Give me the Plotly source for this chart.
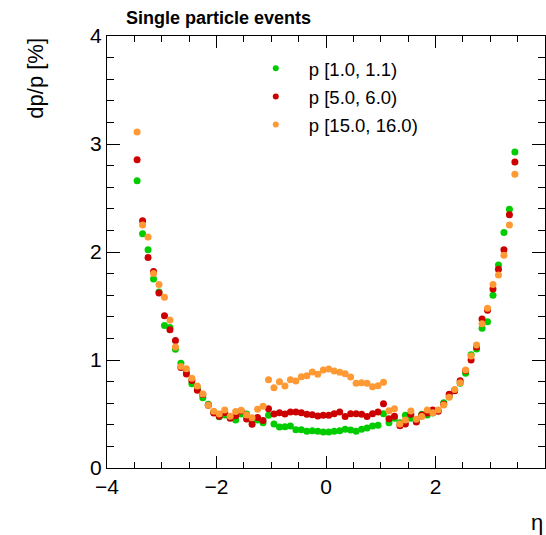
import plotly.graph_objects as go

eta = [-3.45, -3.35, -3.25, -3.15, -3.05, -2.95, -2.85, -2.75, -2.65, -2.55,
       -2.45, -2.35, -2.25, -2.15, -2.05, -1.95, -1.85, -1.75, -1.65, -1.55,
       -1.45, -1.35, -1.25, -1.15, -1.05, -0.95, -0.85, -0.75, -0.65, -0.55,
       -0.45, -0.35, -0.25, -0.15, -0.05, 0.05, 0.15, 0.25, 0.35, 0.45,
       0.55, 0.65, 0.75, 0.85, 0.95, 1.05, 1.15, 1.25, 1.35, 1.45,
       1.55, 1.65, 1.75, 1.85, 1.95, 2.05, 2.15, 2.25, 2.35, 2.45,
       2.55, 2.65, 2.75, 2.85, 2.95, 3.05, 3.15, 3.25, 3.35, 3.45]

p_1 = [2.66, 2.17, 2.02, 1.75, 1.63, 1.32, 1.30, 1.10, 0.97, 0.89,
       0.78, 0.74, 0.65, 0.59, 0.52, 0.475, 0.49, 0.47, 0.444, 0.50,
       0.50, 0.43, 0.444, 0.42, 0.488, 0.407, 0.380, 0.383, 0.389, 0.355,
       0.355, 0.340, 0.346, 0.340, 0.333, 0.333, 0.340, 0.346, 0.358, 0.352,
       0.340, 0.358, 0.370, 0.389, 0.395, 0.503, 0.42, 0.46, 0.42, 0.488,
       0.46, 0.44, 0.497, 0.49, 0.51, 0.53, 0.605, 0.66, 0.72, 0.785,
       0.877, 1.049, 1.102, 1.293, 1.355, 1.60, 1.88, 2.18, 2.395, 2.926]

p_5 = [2.855, 2.29, 1.95, 1.82, 1.62, 1.41, 1.28, 1.18, 0.93, 0.87,
       0.81, 0.72, 0.68, 0.58, 0.51, 0.48, 0.515, 0.46, 0.484, 0.528,
       0.454, 0.404, 0.468, 0.44, 0.549, 0.500, 0.512, 0.500, 0.519, 0.519,
       0.512, 0.497, 0.494, 0.481, 0.488, 0.488, 0.503, 0.519, 0.478, 0.503,
       0.503, 0.497, 0.478, 0.503, 0.519, 0.596, 0.457, 0.48, 0.392, 0.407,
       0.497, 0.426, 0.49, 0.51, 0.537, 0.525, 0.59, 0.682, 0.716, 0.809,
       0.90, 1.0, 1.12, 1.38, 1.46, 1.657, 1.84, 2.02, 2.345, 2.833]

p_15 = [3.11, 2.25, 2.14, 1.80, 1.70, 1.58, 1.37, 1.12, 0.94, 0.92,
        0.83, 0.76, 0.685, 0.58, 0.525, 0.50, 0.537, 0.48, 0.522, 0.534,
        0.491, 0.466, 0.545, 0.572, 0.818, 0.744, 0.799, 0.759, 0.818, 0.806,
        0.846, 0.855, 0.889, 0.867, 0.907, 0.917, 0.898, 0.886, 0.873, 0.843,
        0.784, 0.790, 0.784, 0.753, 0.762, 0.793, 0.531, 0.548, 0.407, 0.444,
        0.528, 0.451, 0.478, 0.537, 0.512, 0.537, 0.583, 0.654, 0.728, 0.79,
        0.907, 1.037, 1.139, 1.335, 1.48, 1.70, 1.787, 1.97, 2.25, 2.72]

names = ["p [1.0, 1.1)", "p [5.0, 6.0)", "p [15.0, 16.0)"]
colors = ["rgb(0,204,0)", "rgb(204,0,0)", "rgb(255,153,51)"]
series = [p_1, p_5, p_15]

FONT = "Liberation Sans, Arial, Helvetica, sans-serif"

fig = go.Figure()
for i, (nm, col, vals) in enumerate(zip(names, colors, series)):
    fig.add_trace(go.Scatter(x=eta, y=vals, mode="markers", name=nm,
                             marker=dict(color=col, size=7, line=dict(width=0)),
                             showlegend=False))
for i, (nm, col) in enumerate(zip(names, colors)):
    fig.add_trace(go.Scatter(x=[None], y=[None], mode="markers", name=nm,
                             legendgroup="g%d" % i,
                             marker=dict(color=col, size=6, line=dict(width=0)),
                             showlegend=True))

axis_common = dict(showline=True, linecolor="black", linewidth=1, mirror="allticks",
                   ticks="inside", tickcolor="black", tickwidth=1,
                   showgrid=False, zeroline=False,
                   tickfont=dict(family=FONT, size=21, color="black"))

fig.update_xaxes(range=[-4, 4], dtick=2, tick0=-4, ticklen=12,
                 minor=dict(dtick=0.5, tick0=-4, ticklen=6, ticks="inside",
                            tickcolor="black", showgrid=False),
                 tickformat="d", **axis_common)
fig.update_yaxes(range=[0, 4], dtick=1, tick0=0, ticklen=13,
                 minor=dict(dtick=0.2, tick0=0, ticklen=7, ticks="inside",
                            tickcolor="black", showgrid=False),
                 **axis_common)

fig.update_layout(
    width=546, height=535,
    margin=dict(l=107, r=1, t=36, b=67),
    paper_bgcolor="white", plot_bgcolor="white",
    font=dict(family=FONT, color="black"),
    legend=dict(x=0.31, y=0.968, xanchor="left", yanchor="top",
                bgcolor="rgba(0,0,0,0)", itemwidth=56,
                tracegroupgap=1,
                font=dict(family=FONT, size=18.5, color="black")),
    annotations=[
        dict(text="<b>Single particle events</b>", xref="paper", yref="paper",
             x=0.039, y=1.0417, xanchor="left", yanchor="middle", showarrow=False,
             font=dict(family=FONT, size=18, color="black")),
        dict(text="dp/p [%]", xref="paper", yref="paper", textangle=-90,
             x=-0.164, y=1.0, xanchor="center", yanchor="top", showarrow=False,
             font=dict(family=FONT, size=22, color="black")),
        dict(text="η", xref="paper", yref="paper",
             x=1.0, y=-0.125, xanchor="right", yanchor="middle", showarrow=False,
             font=dict(family=FONT, size=22, color="black")),
    ],
)

fig.write_html("out.html")
